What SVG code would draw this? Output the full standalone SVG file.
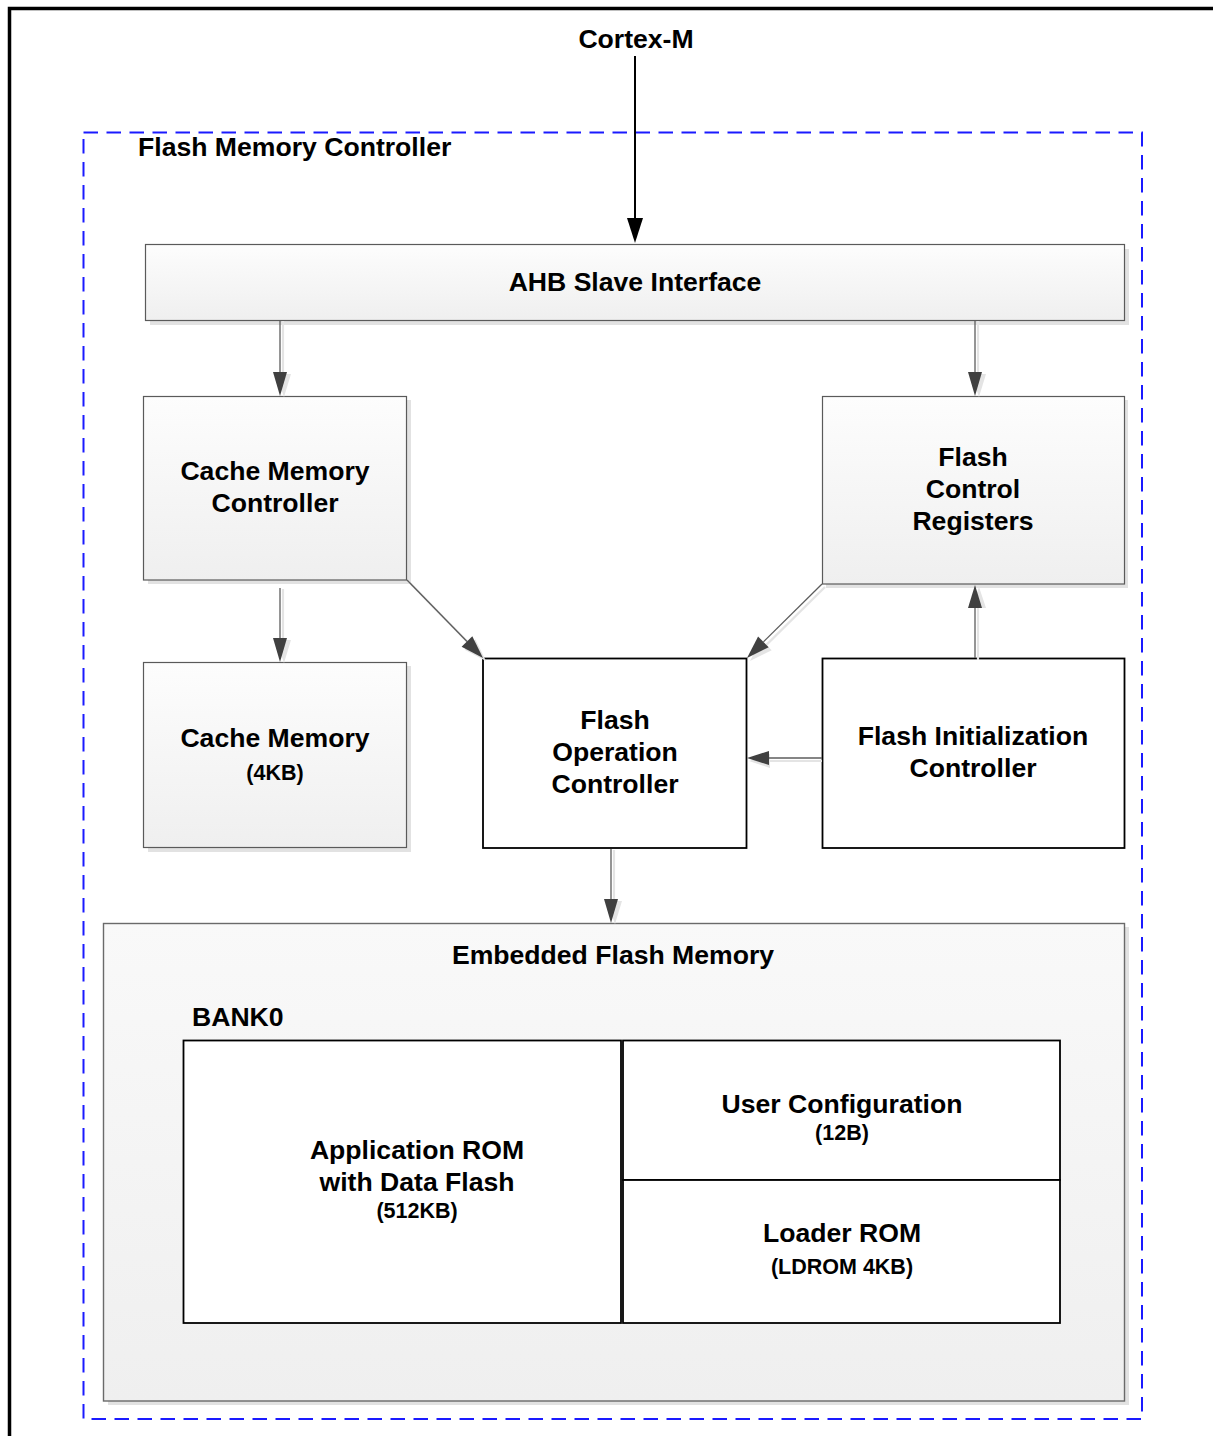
<svg xmlns="http://www.w3.org/2000/svg" width="1213" height="1436" viewBox="0 0 1213 1436">
  <style>
    .lbl { font-family: "Liberation Sans", Arial, sans-serif; font-weight: bold; font-size: 26.6px; fill: #000; text-anchor: middle; }
    .sub { font-family: "Liberation Sans", Arial, sans-serif; font-weight: bold; font-size: 21.5px; fill: #000; text-anchor: middle; }
    .left { text-anchor: start; }
    .block { fill: url(#blockFill); stroke: #5a5a5a; stroke-width: 1.2; }
    .shade { fill: #e2e2e2; }
    .plain { fill: #fff; stroke: #000; stroke-width: 1.8; }
    .wire { stroke: #5c5c5c; stroke-width: 1.3; fill: none; }
    .wire-shadow { stroke: #e4e4e4; stroke-width: 2.2; fill: none; }
    .head { fill: #404040; }
    .head-shadow { fill: #e4e4e4; }
  </style>
  <defs>
    <linearGradient id="blockFill" x1="0" y1="0" x2="0" y2="1">
      <stop offset="0" stop-color="#fdfdfd"/>
      <stop offset="1" stop-color="#efefef"/>
    </linearGradient>
    <linearGradient id="memFill" x1="0" y1="0" x2="0" y2="1">
      <stop offset="0" stop-color="#f9f9f9"/>
      <stop offset="1" stop-color="#efefef"/>
    </linearGradient>
  </defs>

  <rect width="1213" height="1436" fill="#fff"/>

  <!-- outer frame -->
  <rect x="9.5" y="8.5" width="1230" height="1460" fill="none" stroke="#000" stroke-width="3.5"/>

  <!-- controller boundary -->
  <g id="flash-memory-controller">
    <rect x="83.5" y="132.5" width="1058.5" height="1286.5" fill="none" stroke="#1a1aff" stroke-width="2" stroke-dasharray="14.5 8.5"/>
    <text class="lbl left" x="138" y="156">Flash Memory Controller</text>
  </g>

  <g id="cortex-m">
    <text class="lbl" x="636" y="48">Cortex-M</text>
  </g>

  <g id="ahb-slave-interface">
    <rect class="shade" x="150" y="249" width="979" height="76"/>
    <rect class="block" x="145.5" y="244.5" width="979" height="76"/>
    <text class="lbl" x="635" y="291">AHB Slave Interface</text>
  </g>

  <g id="cache-memory-controller">
    <rect class="shade" x="148" y="400" width="263" height="184"/>
    <rect class="block" x="143.5" y="396.5" width="263" height="183.5"/>
    <text class="lbl" x="275" y="480">Cache Memory</text>
    <text class="lbl" x="275" y="512">Controller</text>
  </g>

  <g id="flash-control-registers">
    <rect class="shade" x="826" y="400" width="302" height="188"/>
    <rect class="block" x="822.5" y="396.5" width="302" height="187.5"/>
    <text class="lbl" x="973" y="466">Flash</text>
    <text class="lbl" x="973" y="498">Control</text>
    <text class="lbl" x="973" y="530">Registers</text>
  </g>

  <g id="cache-memory">
    <rect class="shade" x="148" y="666" width="263" height="186"/>
    <rect class="block" x="143.5" y="662.5" width="263" height="185"/>
    <text class="lbl" x="275" y="747">Cache Memory</text>
    <text class="sub" x="275" y="780">(4KB)</text>
  </g>

  <g id="flash-operation-controller">
    <rect class="plain" x="483" y="658.5" width="263.5" height="189.5"/>
    <text class="lbl" x="615" y="729">Flash</text>
    <text class="lbl" x="615" y="761">Operation</text>
    <text class="lbl" x="615" y="793">Controller</text>
  </g>

  <g id="flash-initialization-controller">
    <rect class="plain" x="822.5" y="658.5" width="302" height="189.5"/>
    <text class="lbl" x="973" y="745">Flash Initialization</text>
    <text class="lbl" x="973" y="777">Controller</text>
  </g>

  <g id="embedded-flash-memory">
    <rect class="shade" x="108" y="927" width="1021" height="478"/>
    <rect x="103.5" y="923.5" width="1021" height="477.5" fill="url(#memFill)" stroke="#6a6a6a" stroke-width="1.4"/>
    <text class="lbl" x="613" y="964">Embedded Flash Memory</text>
    <text class="lbl left" x="192" y="1026">BANK0</text>
  </g>

  <g id="application-rom">
    <rect class="plain" x="183.5" y="1040.5" width="437.5" height="282.5"/>
    <text class="lbl" x="417" y="1159">Application ROM</text>
    <text class="lbl" x="417" y="1191">with Data Flash</text>
    <text class="sub" x="417" y="1218">(512KB)</text>
  </g>

  <g id="user-configuration">
    <rect class="plain" x="623" y="1040.5" width="437" height="139.5"/>
    <text class="lbl" x="842" y="1113">User Configuration</text>
    <text class="sub" x="842" y="1140">(12B)</text>
  </g>

  <g id="loader-rom">
    <rect class="plain" x="623" y="1180" width="437" height="143"/>
    <text class="lbl" x="842" y="1242">Loader ROM</text>
    <text class="sub" x="842" y="1274">(LDROM 4KB)</text>
  </g>

  <g id="connectors">
    <!-- soft drop shadows under the grey connectors -->
    <g>
      <line class="wire-shadow" x1="283" y1="321" x2="283" y2="376"/>
      <polygon class="head-shadow" points="276,374 291,374 284,397"/>
      <line class="wire-shadow" x1="978" y1="321" x2="978" y2="376"/>
      <polygon class="head-shadow" points="971,374 986,374 979,397"/>
      <line class="wire-shadow" x1="283" y1="589" x2="283" y2="642"/>
      <polygon class="head-shadow" points="276,640 291,640 284,663"/>
      <line class="wire-shadow" x1="410" y1="583" x2="470" y2="644.5"/>
      <polygon class="head-shadow" points="464.6,649.8 475.3,639.3 486,661"/>
      <line class="wire-shadow" x1="825" y1="587" x2="766.4" y2="644.9"/>
      <polygon class="head-shadow" points="771.7,650.2 761.1,639.5 750,661"/>
      <line class="wire-shadow" x1="978" y1="660" x2="978" y2="606"/>
      <polygon class="head-shadow" points="971,608 986,608 979,587"/>
      <line class="wire-shadow" x1="822" y1="761" x2="768" y2="761"/>
      <polygon class="head-shadow" points="770,754 770,768 749,761"/>
      <line class="wire-shadow" x1="614" y1="850" x2="614" y2="903"/>
      <polygon class="head-shadow" points="607,901 622,901 615,924"/>
    </g>

    <!-- Cortex-M to AHB slave interface -->
    <line x1="635" y1="56" x2="635" y2="222" stroke="#000" stroke-width="2"/>
    <polygon points="627,218 643,218 635,243" fill="#000"/>

    <!-- AHB to cache memory controller -->
    <line class="wire" x1="280" y1="321" x2="280" y2="374"/>
    <polygon class="head" points="273,372 287,372 280,396"/>

    <!-- AHB to flash control registers -->
    <line class="wire" x1="975" y1="321" x2="975" y2="374"/>
    <polygon class="head" points="968,372 982,372 975,396"/>

    <!-- cache memory controller to cache memory -->
    <line class="wire" x1="280" y1="588" x2="280" y2="640"/>
    <polygon class="head" points="273,638 287,638 280,662"/>

    <!-- cache memory controller to flash operation controller -->
    <line class="wire" x1="407" y1="580" x2="467" y2="641.5"/>
    <polygon class="head" points="461.6,646.8 472.3,636.3 483,658"/>

    <!-- flash control registers to flash operation controller -->
    <line class="wire" x1="822" y1="584" x2="763.4" y2="641.9"/>
    <polygon class="head" points="768.7,647.2 758.1,636.5 747,658"/>

    <!-- flash initialization controller to flash control registers -->
    <line class="wire" x1="975" y1="658" x2="975" y2="606"/>
    <polygon class="head" points="968,608 982,608 975,585"/>

    <!-- flash initialization controller to flash operation controller -->
    <line class="wire" x1="822" y1="758" x2="768" y2="758"/>
    <polygon class="head" points="769,751 769,765 747,758"/>

    <!-- flash operation controller to embedded flash memory -->
    <line class="wire" x1="611" y1="849" x2="611" y2="901"/>
    <polygon class="head" points="604,899 618,899 611,923"/>
  </g>
</svg>
